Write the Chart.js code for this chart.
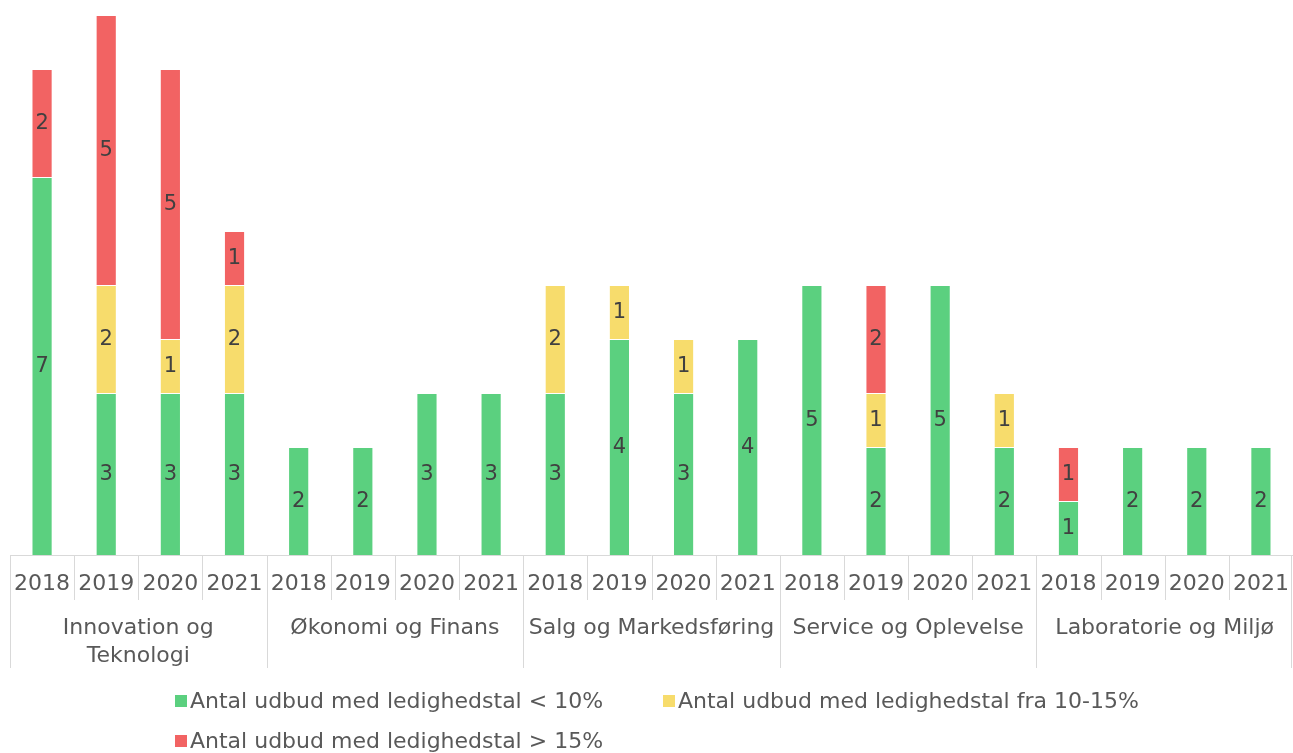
<!DOCTYPE html>
<html>
<head>
<meta charset="utf-8">
<script src="https://cdn.jsdelivr.net/npm/chart.js"></script>
<style>
  body { margin: 0; background: #fff; }
  #wrap { width: 1293px; height: 753px; }
</style>
</head>
<body>
<div id="wrap"><canvas id="myChart" width="1293" height="753"></canvas></div>
<script>
// years repeated per group
var years = ['2018', '2019', '2020', '2021'];
var groups = [['Innovation og', 'Teknologi'], ['Økonomi og Finans'], ['Salg og Markedsføring'], ['Service og Oplevelse'], ['Laboratorie og Miljø']];
var labels = [];
for (let g = 0; g < groups.length; g++) {
    for (let y = 0; y < years.length; y++) {
        labels.push(years[y]);
    }
}
var under10 = [7, 3, 3, 3, 2, 2, 3, 3, 3, 4, 3, 4, 5, 2, 5, 2, 1, 2, 2, 2];
var from10to15 = [0, 2, 1, 2, 0, 0, 0, 0, 2, 1, 1, 0, 0, 1, 0, 1, 0, 0, 0, 0];
var over15 = [2, 5, 5, 1, 0, 0, 0, 0, 0, 0, 0, 0, 0, 2, 0, 0, 1, 0, 0, 0];
var seriesNames = ['Antal udbud med ledighedstal < 10%', 'Antal udbud med ledighedstal fra 10-15%', 'Antal udbud med ledighedstal > 15%'];
var colors = ['#5BD07F', '#F7DC6C', '#F26363'];

var font = 'DejaVu Sans, Verdana, sans-serif';

// draws value labels, category axis and legend the way the excel chart does
var excelBits = {
    id: 'excelBits',
    afterDraw: function (chart) {
        let ctx = chart.ctx;
        let area = chart.chartArea;
        ctx.save();
        // value labels
        ctx.fillStyle = '#404040';
        ctx.font = '21px ' + font;
        ctx.textAlign = 'center';
        ctx.textBaseline = 'middle';
        chart.data.datasets.forEach(function (ds, di) {
            let meta = chart.getDatasetMeta(di);
            meta.data.forEach(function (bar, i) {
                if (ds.data[i] > 0) {
                    ctx.fillText(ds.data[i], bar.x, (bar.y + bar.base) / 2 + 1);
                }
            });
        });
        // axis lines
        let slot = (area.right - area.left) / labels.length;
        let base = area.bottom;
        ctx.strokeStyle = '#D9D9D9';
        ctx.lineWidth = 1;
        ctx.beginPath();
        ctx.moveTo(area.left, base + 0.5);
        ctx.lineTo(area.right, base + 0.5);
        for (let i = 0; i <= labels.length; i++) {
            let x = Math.round(area.left + i * slot) + 0.5;
            if (i == labels.length) x = area.right - 1.5;
            ctx.moveTo(x, base);
            ctx.lineTo(x, i % 4 == 0 ? base + 113 : base + 45);
        }
        ctx.stroke();
        // tick labels
        ctx.fillStyle = '#595959';
        ctx.font = '22px ' + font;
        for (let i = 0; i < labels.length; i++) {
            ctx.fillText(labels[i], area.left + (i + 0.5) * slot, base + 29);
        }
        for (let g = 0; g < groups.length; g++) {
            let cx = area.left + (g * 4 + 2) * slot;
            groups[g].forEach(function (line, li) {
                ctx.fillText(line, cx, base + 73 + li * 28);
            });
        }
        // legend
        ctx.font = '22px ' + font;
        ctx.textAlign = 'left';
        let items = [[175, 701], [663, 701], [175, 741]];
        items.forEach(function (p, k) {
            ctx.fillStyle = colors[k];
            ctx.fillRect(p[0], p[1] - 6, 12, 12);
            ctx.fillStyle = '#595959';
            ctx.fillText(seriesNames[k], p[0] + 15, p[1] + 1);
        });
        ctx.restore();
    }
};

var datasets = [under10, from10to15, over15].map(function (d, k) {
    return {
        label: seriesNames[k],
        data: d,
        backgroundColor: colors[k],
        borderColor: 'rgba(255,255,255,0.35)',
        borderWidth: 1,
        categoryPercentage: 1,
        barPercentage: 0.33
    };
});

var chart = new Chart(document.getElementById('myChart'), {
    type: 'bar',
    data: { labels: labels, datasets: datasets },
    options: {
        responsive: false,
        animation: false,
        layout: { padding: { left: 10, right: 0, top: 15, bottom: 198 } },
        scales: {
            x: { stacked: true, display: false },
            y: { stacked: true, display: false, min: 0, max: 10 }
        },
        plugins: {
            legend: { display: false },
            tooltip: { enabled: false }
        }
    },
    plugins: [excelBits]
});
</script>
</body>
</html>
